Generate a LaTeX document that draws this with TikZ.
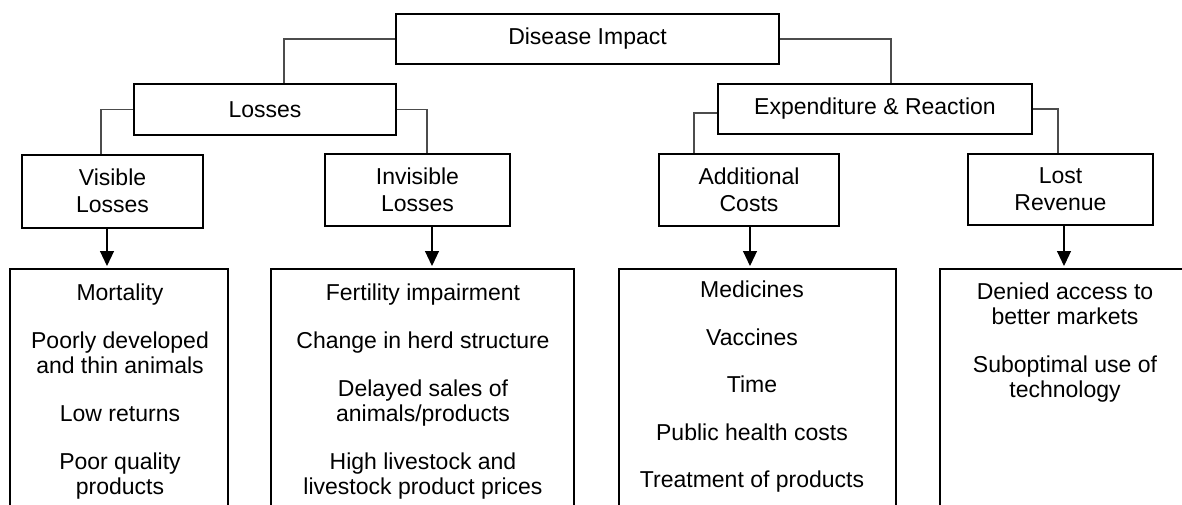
\documentclass[tikz,border=0pt]{standalone}
\usepackage{fontspec}
\setmainfont{Liberation Sans}
\usetikzlibrary{arrows.meta}
\begin{document}
\begin{tikzpicture}[x=1pt,y=-1pt,
  box/.style={draw, line width=2pt, rectangle, inner sep=0pt, align=center, font=\fontsize{23}{27}\selectfont},
  bigbox/.style={draw, line width=2pt, rectangle, inner sep=0pt, anchor=north, minimum height=300pt},
  conn/.style={line width=1.1pt, draw=black!70},
  arr/.style={line width=1.1pt, shorten >=2pt, -{Triangle[length=15pt,width=14pt]}},
  btxt/.style={anchor=north, inner sep=0pt, align=center, font=\fontsize{23}{25}\selectfont}]
\useasboundingbox (0,0) rectangle (1182,504);
\clip (0,0) rectangle (1182,504);
% header nodes
\node[box, minimum width=383pt, minimum height=50pt] (D) at (587.5,39) {Disease Impact};
\node[box, minimum width=262pt, minimum height=51pt] (L) at (265,109.5) {Losses};
\node[box, minimum width=314pt, minimum height=50pt] (E) at (875,109) {Expenditure \& Reaction};
\node[box, minimum width=181pt, minimum height=73pt] (V) at (112.5,191) {Visible\\Losses};
\node[box, minimum width=185pt, minimum height=72pt] (I) at (417.5,190) {Invisible\\Losses};
\node[box, minimum width=180pt, minimum height=72pt] (A) at (749,190) {Additional\\Costs};
\node[box, minimum width=185pt, minimum height=71pt] (R) at (1060.5,189) {Lost\\Revenue};
% bottom boxes
\node[bigbox, minimum width=218pt] (vb) at (119,268) {};
\node[bigbox, minimum width=303pt] (ib) at (422.5,268) {};
\node[bigbox, minimum width=277pt] (ab) at (757.5,268) {};
\node[bigbox, minimum width=250pt] (rb) at (1065,268) {};
% bottom texts
\node[btxt] (vt) at (120,284) {Mortality\\[23pt]Poorly developed\\and thin animals\\[23pt]Low returns\\[23pt]Poor quality\\products};
\node[btxt] (it) at (423,284) {Fertility impairment\\[23pt]Change in herd structure\\[23pt]Delayed sales of\\animals/products\\[23pt]High livestock and\\livestock product prices};
\node[btxt] (at) at (752,281) {Medicines\\[22.5pt]Vaccines\\[22.5pt]Time\\[22.5pt]Public health costs\\[22.5pt]Treatment of products};
\node[btxt] (rt) at (1065,283) {Denied access to\\better markets\\[23pt]Suboptimal use of\\technology};
% connectors
\draw[conn] (D.west) -| ([xshift=19pt]L.north);
\draw[conn] (D.east) -| ([xshift=16pt]E.north);
\draw[conn] (L.west) -| ([xshift=-11.5pt]V.north);
\draw[conn] (L.east) -| ([xshift=9.5pt]I.north);
\draw[conn] ([yshift=-4pt]E.west) -| ([xshift=-55pt]A.north);
\draw[conn] (E.east) -| ([xshift=-2.5pt]R.north);
% arrows
\draw[arr] ([xshift=-5.5pt]V.south) -- ([xshift=-5.5pt]V.south |- vb.north);
\draw[arr] ([xshift=14.5pt]I.south) -- ([xshift=14.5pt]I.south |- ib.north);
\draw[arr] ([xshift=1pt]A.south) -- ([xshift=1pt]A.south |- ab.north);
\draw[arr] ([xshift=3.5pt]R.south) -- ([xshift=3.5pt]R.south |- rb.north);
\end{tikzpicture}
\end{document}
